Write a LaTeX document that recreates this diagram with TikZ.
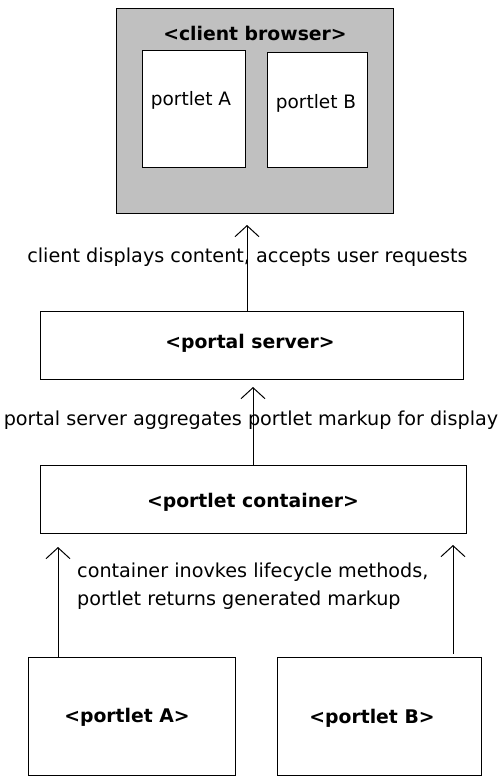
\documentclass[tikz,border=0pt]{standalone}
\usepackage{fontspec}
\setmainfont{DejaVu Sans}
\usetikzlibrary{arrows.meta}
\definecolor{browsergray}{HTML}{C0C0C0}
\begin{document}
\begin{tikzpicture}[x=1pt,y=-1pt,
  box/.style={draw=black, line width=1pt, fill=white, inner sep=0pt, outer sep=0pt},
  lbl/.style={inner sep=0pt, font=\fontsize{19.2}{27.5}\selectfont},
  inlbl/.style={inner sep=0pt, font=\fontsize{18.5}{22}\selectfont},
  btxt/.style={inner sep=0pt, font=\bfseries\fontsize{18.8}{22}\selectfont},
  arr/.style={line width=1pt, -{Straight Barb[length=11pt,width=24pt,line width=1pt]}}]
\useasboundingbox (0,0) rectangle (501,776);
% client browser
\node[box, fill=browsergray, minimum width=277pt, minimum height=204pt] (browser) at (254.5,111) {};
\node[btxt] (browsertitle) at (255,33) {<client browser>};
\node[box, minimum width=103pt, minimum height=116pt] (innerA) at (193.5,109) {};
\node[inlbl] (innerAtxt) at (191,100) {portlet A};
\node[box, minimum width=100pt, minimum height=114pt] (innerB) at (317,110) {};
\node[inlbl] (innerBtxt) at (316,103) {portlet B};
% portal server
\node[box, minimum width=423pt, minimum height=68pt] (ps) at (251.5,345) {};
\node[btxt] (pstxt) at (250,343) {<portal server>};
% portlet container
\node[box, minimum width=426pt, minimum height=68pt] (pc) at (253,499) {};
\node[btxt] (pctxt) at (253,502) {<portlet container>};
% portlets
\node[box, minimum width=207pt, minimum height=118pt] (pA) at (131.5,716) {};
\node[btxt] (pAtxt) at (127,717) {<portlet A>};
\node[box, minimum width=204pt, minimum height=118pt] (pB) at (379,716) {};
\node[btxt] (pBtxt) at (372,718) {<portlet B>};
% labels
\node[lbl] (l1) at (247.5,257) {client displays content, accepts user requests};
\node[lbl] (l2) at (251,420) {portal server aggregates portlet markup for display};
\node[lbl, anchor=west, align=left] (l3) at (77,586) {container inovkes lifecycle methods,\\portlet returns generated markup};
% arrows
\coordinate (x1) at (247,0);
\coordinate (x2) at (253,0);
\coordinate (x3) at (58,0);
\coordinate (x4) at (453,0);
\draw[arr, shorten >=12pt] (ps.north -| x1) -- (browser.south -| x1);
\draw[arr, shorten >=8pt] (pc.north -| x2) -- (ps.south -| x2);
\draw[arr, shorten >=14pt] (pA.north -| x3) -- (pc.south -| x3);
\draw[arr, shorten <=3pt, shorten >=12pt] (pB.north -| x4) -- (pc.south -| x4);
\end{tikzpicture}
\end{document}
